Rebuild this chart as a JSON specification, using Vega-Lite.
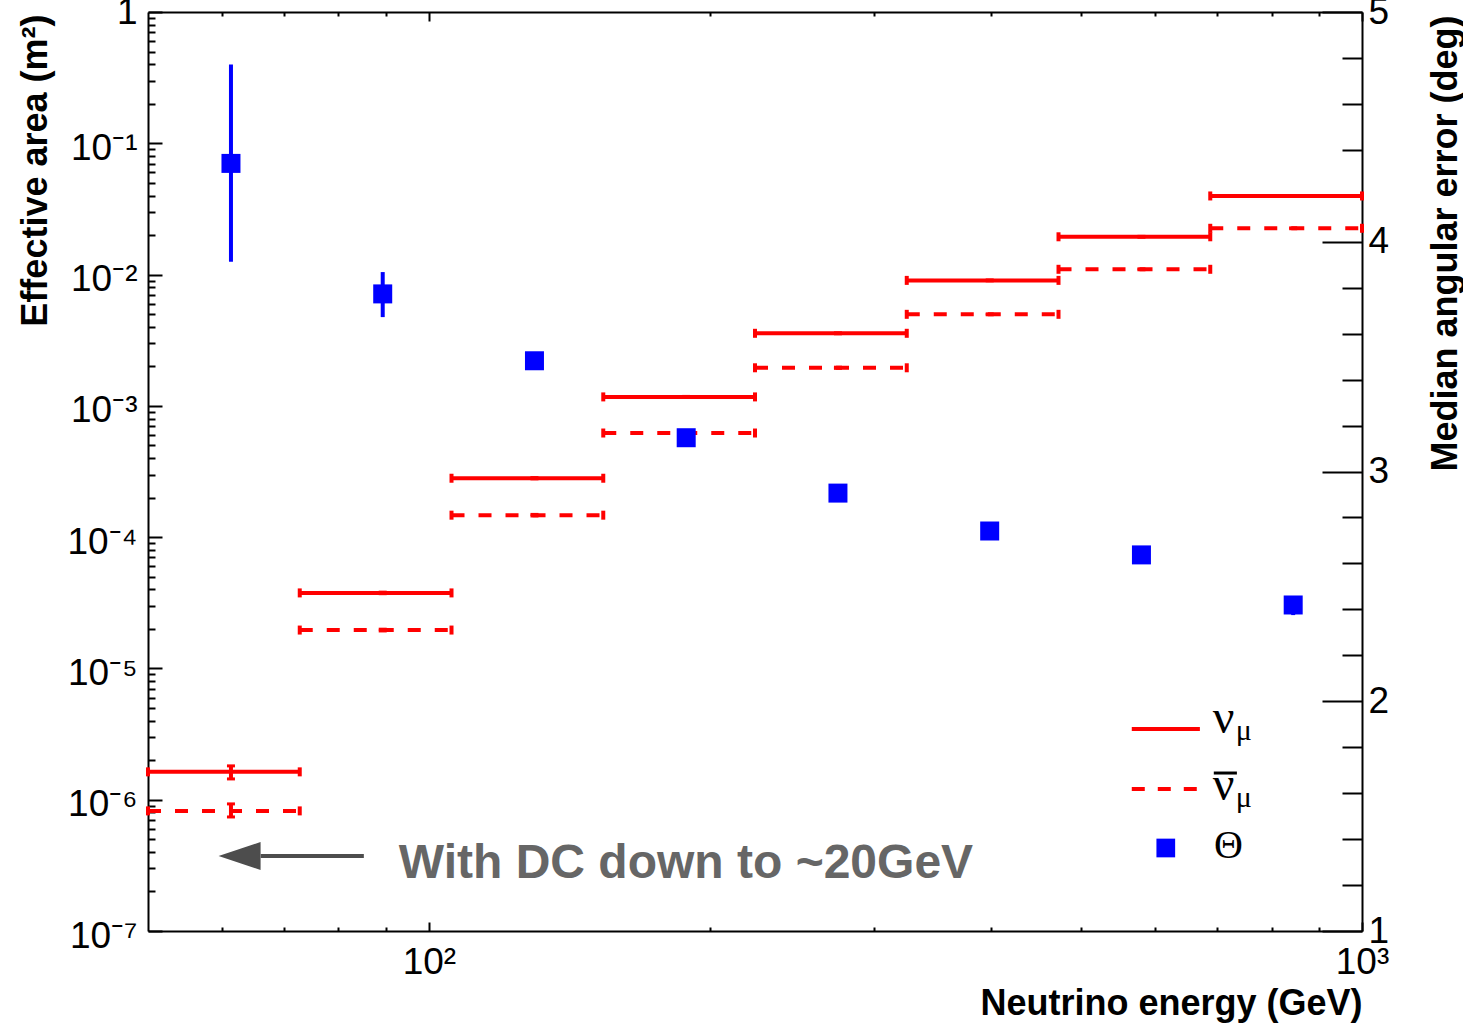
{
  "$schema": "https://vega.github.io/schema/vega-lite/v6.json",
  "width": 1214,
  "height": 919,
  "autosize": {"type": "none"},
  "padding": {"left": 148, "top": 12, "right": 101, "bottom": 92},
  "background": "white",
  "datasets": {
    "red": [
      {"series": "nu", "x0": 50, "x1": 72.71, "xc": 61.36, "y": 1.63e-6, "lo": 1.44e-6, "hi": 1.81e-6},
      {"series": "nu", "x0": 72.71, "x1": 105.74, "xc": 89.23, "y": 3.76e-5, "lo": 3.71e-5, "hi": 3.81e-5},
      {"series": "nu", "x0": 105.74, "x1": 153.77, "xc": 129.76, "y": 2.81e-4, "lo": 2.78e-4, "hi": 2.84e-4},
      {"series": "nu", "x0": 153.77, "x1": 223.61, "xc": 188.69, "y": 1.17e-3, "lo": 1.16e-3, "hi": 1.18e-3},
      {"series": "nu", "x0": 223.61, "x1": 325.18, "xc": 274.4, "y": 3.57e-3, "lo": 3.54e-3, "hi": 3.6e-3},
      {"series": "nu", "x0": 325.18, "x1": 472.88, "xc": 399.03, "y": 9.03e-3, "lo": 8.96e-3, "hi": 9.1e-3},
      {"series": "nu", "x0": 472.88, "x1": 687.67, "xc": 580.27, "y": 0.0194, "lo": 0.01925, "hi": 0.01955},
      {"series": "nu", "x0": 687.67, "x1": 1000, "xc": 843.84, "y": 0.0397, "lo": 0.0394, "hi": 0.04},
      {"series": "nubar", "x0": 50, "x1": 72.71, "xc": 61.36, "y": 8.22e-7, "lo": 7.39e-7, "hi": 9.29e-7},
      {"series": "nubar", "x0": 72.71, "x1": 105.74, "xc": 89.23, "y": 1.96e-5, "lo": 1.93e-5, "hi": 1.99e-5},
      {"series": "nubar", "x0": 105.74, "x1": 153.77, "xc": 129.76, "y": 1.47e-4, "lo": 1.45e-4, "hi": 1.49e-4},
      {"series": "nubar", "x0": 153.77, "x1": 223.61, "xc": 188.69, "y": 6.21e-4, "lo": 6.15e-4, "hi": 6.27e-4},
      {"series": "nubar", "x0": 223.61, "x1": 325.18, "xc": 274.4, "y": 1.95e-3, "lo": 1.93e-3, "hi": 1.97e-3},
      {"series": "nubar", "x0": 325.18, "x1": 472.88, "xc": 399.03, "y": 4.98e-3, "lo": 4.94e-3, "hi": 5.02e-3},
      {"series": "nubar", "x0": 472.88, "x1": 687.67, "xc": 580.27, "y": 0.01097, "lo": 0.01088, "hi": 0.01106},
      {"series": "nubar", "x0": 687.67, "x1": 1000, "xc": 843.84, "y": 0.02252, "lo": 0.02235, "hi": 0.02269}
    ],
    "theta": [
      {"xc": 61.36, "y": 4.341, "lo": 3.913, "hi": 4.772},
      {"xc": 89.23, "y": 3.773, "lo": 3.672, "hi": 3.868},
      {"xc": 129.76, "y": 3.482, "lo": 3.46, "hi": 3.5},
      {"xc": 188.69, "y": 3.147, "lo": 3.13, "hi": 3.165},
      {"xc": 274.4, "y": 2.906, "lo": 2.89, "hi": 2.92},
      {"xc": 399.03, "y": 2.741, "lo": 2.725, "hi": 2.755},
      {"xc": 580.27, "y": 2.637, "lo": 2.62, "hi": 2.655},
      {"xc": 843.84, "y": 2.419, "lo": 2.375, "hi": 2.458}
    ]
  },
  "layer": [
    {
      "data": {"name": "red"},
      "transform": [{"filter": "datum.series == 'nu'"}],
      "mark": {"type": "rule", "color": "#ff0000", "strokeWidth": 4},
      "encoding": {
        "x": {"field": "x0", "type": "quantitative", "scale": {"type": "log", "domain": [50, 1000], "nice": false},
          "axis": {
            "orient": "bottom",
            "values": [60, 70, 80, 90, 100, 200, 300, 400, 500, 600, 700, 800, 900, 1000],
            "labelExpr": "datum.value == 100 ? '10²' : (datum.value == 1000 ? '10³' : '')",
            "tickSize": {"condition": {"test": "datum.value == 100 || datum.value == 1000", "value": -9}, "value": -4},
            "labelPadding": 22,
            "labelBaseline": "top",
            "title": "Neutrino energy (GeV)",
            "titleAnchor": "end",
            "titleAlign": "right",
            "titleBaseline": "alphabetic",
            "titleX": 1214,
            "titleY": 83
          }
        },
        "x2": {"field": "x1"},
        "y": {"field": "y", "type": "quantitative", "scale": {"type": "log", "domain": [1e-7, 1], "nice": false},
          "axis": {
            "orient": "left",
            "values": [1e-7, 2e-7, 3e-7, 4e-7, 5e-7, 6e-7, 7e-7, 8e-7, 9e-7,
                       1e-6, 2e-6, 3e-6, 4e-6, 5e-6, 6e-6, 7e-6, 8e-6, 9e-6,
                       1e-5, 2e-5, 3e-5, 4e-5, 5e-5, 6e-5, 7e-5, 8e-5, 9e-5,
                       1e-4, 2e-4, 3e-4, 4e-4, 5e-4, 6e-4, 7e-4, 8e-4, 9e-4,
                       0.001, 0.002, 0.003, 0.004, 0.005, 0.006, 0.007, 0.008, 0.009,
                       0.01, 0.02, 0.03, 0.04, 0.05, 0.06, 0.07, 0.08, 0.09,
                       0.1, 0.2, 0.3, 0.4, 0.5, 0.6, 0.7, 0.8, 0.9, 1],
            "labelExpr": "abs(log(datum.value)/LN10 - round(log(datum.value)/LN10)) < 0.001 ? ['1','10⁻¹','10⁻²','10⁻³','10⁻⁴','10⁻⁵','10⁻⁶','10⁻⁷'][-round(log(datum.value)/LN10)] : ''",
            "tickSize": {"condition": {"test": "abs(log(datum.value)/LN10 - round(log(datum.value)/LN10)) < 0.001", "value": -14}, "value": -7},
            "labelOffset": {"condition": {"test": "datum.value == 1", "value": 0}, "value": 5},
            "labelPadding": 25,
            "labelAlign": "right",
            "labelBaseline": "middle",
            "title": "Effective area (m²)",
            "titleAnchor": "end",
            "titleAngle": -90,
            "titleAlign": "right",
            "titleBaseline": "alphabetic",
            "titleX": -102,
            "titleY": 2
          }
        }
      }
    },
    {
      "data": {"name": "red"},
      "transform": [{"filter": "datum.series == 'nubar'"}],
      "mark": {"type": "rule", "color": "#ff0000", "strokeWidth": 4, "strokeDash": [13, 14]},
      "encoding": {
        "x": {"field": "x0", "type": "quantitative",
          "axis": {
            "orient": "top",
            "values": [60, 70, 80, 90, 100, 200, 300, 400, 500, 600, 700, 800, 900, 1000],
            "labels": false,
            "tickSize": {"condition": {"test": "datum.value == 100 || datum.value == 1000", "value": -9}, "value": -4},
            "title": null
          }
        },
        "x2": {"field": "x1"},
        "y": {"field": "y", "type": "quantitative", "scale": {"type": "log", "domain": [1e-7, 1], "nice": false}, "axis": null}
      }
    },
    {
      "data": {"name": "red"},
      "mark": {"type": "tick", "orient": "vertical", "size": 9, "thickness": 4, "color": "#ff0000", "opacity": 1},
      "encoding": {
        "x": {"field": "x0", "type": "quantitative", "axis": null},
        "y": {"field": "y", "type": "quantitative", "scale": {"type": "log", "domain": [1e-7, 1], "nice": false}, "axis": null}
      }
    },
    {
      "data": {"name": "red"},
      "mark": {"type": "tick", "orient": "vertical", "size": 9, "thickness": 4, "color": "#ff0000", "opacity": 1},
      "encoding": {
        "x": {"field": "x1", "type": "quantitative", "axis": null},
        "y": {"field": "y", "type": "quantitative", "scale": {"type": "log", "domain": [1e-7, 1], "nice": false}, "axis": null}
      }
    },
    {
      "data": {"name": "red"},
      "mark": {"type": "rule", "color": "#ff0000", "strokeWidth": 4},
      "encoding": {
        "x": {"field": "xc", "type": "quantitative", "axis": null},
        "y": {"field": "lo", "type": "quantitative", "scale": {"type": "log", "domain": [1e-7, 1], "nice": false}, "axis": null},
        "y2": {"field": "hi"}
      }
    },
    {
      "data": {"name": "red"},
      "mark": {"type": "tick", "orient": "horizontal", "size": 8, "thickness": 3, "color": "#ff0000", "opacity": 1},
      "encoding": {
        "x": {"field": "xc", "type": "quantitative", "axis": null},
        "y": {"field": "lo", "type": "quantitative", "scale": {"type": "log", "domain": [1e-7, 1], "nice": false}, "axis": null}
      }
    },
    {
      "data": {"name": "red"},
      "mark": {"type": "tick", "orient": "horizontal", "size": 8, "thickness": 3, "color": "#ff0000", "opacity": 1},
      "encoding": {
        "x": {"field": "xc", "type": "quantitative", "axis": null},
        "y": {"field": "hi", "type": "quantitative", "scale": {"type": "log", "domain": [1e-7, 1], "nice": false}, "axis": null}
      }
    },
    {
      "data": {"values": [{}]},
      "mark": {"type": "rule", "color": "#4d4d4d", "strokeWidth": 4},
      "encoding": {
        "x": {"datum": 66.03, "type": "quantitative", "axis": null},
        "x2": {"datum": 85.17},
        "y": {"datum": 3.725e-7, "type": "quantitative", "scale": {"type": "log", "domain": [1e-7, 1], "nice": false}, "axis": null}
      }
    },
    {
      "data": {"values": [{}]},
      "mark": {"type": "point", "shape": "M-1,0L1,-0.667L1,0.667Z", "size": 1764, "filled": true, "color": "#4d4d4d", "opacity": 1, "strokeWidth": 0},
      "encoding": {
        "x": {"datum": 62.68, "type": "quantitative", "axis": null},
        "y": {"datum": 3.725e-7, "type": "quantitative", "scale": {"type": "log", "domain": [1e-7, 1], "nice": false}, "axis": null}
      }
    },
    {
      "data": {"values": [{}]},
      "mark": {"type": "text", "text": "With DC down to ~20GeV", "font": "Liberation Sans", "fontSize": 48, "fontWeight": "bold", "color": "#666666", "align": "left", "baseline": "alphabetic"},
      "encoding": {
        "x": {"datum": 92.85, "type": "quantitative", "axis": null},
        "y": {"datum": 2.534e-7, "type": "quantitative", "scale": {"type": "log", "domain": [1e-7, 1], "nice": false}, "axis": null}
      }
    },
    {
      "data": {"values": [{}]},
      "mark": {"type": "rule", "color": "#ff0000", "strokeWidth": 4},
      "encoding": {
        "x": {"datum": 566.6, "type": "quantitative", "axis": null},
        "x2": {"datum": 670.3},
        "y": {"datum": 3.457e-6, "type": "quantitative", "scale": {"type": "log", "domain": [1e-7, 1], "nice": false}, "axis": null}
      }
    },
    {
      "data": {"values": [{}]},
      "mark": {"type": "rule", "color": "#ff0000", "strokeWidth": 4, "strokeDash": [13, 13]},
      "encoding": {
        "x": {"datum": 566.6, "type": "quantitative", "axis": null},
        "x2": {"datum": 670.3},
        "y": {"datum": 1.207e-6, "type": "quantitative", "scale": {"type": "log", "domain": [1e-7, 1], "nice": false}, "axis": null}
      }
    },
    {
      "data": {"values": [{}]},
      "mark": {"type": "point", "shape": "square", "size": 350, "filled": true, "color": "#0000ff", "opacity": 1},
      "encoding": {
        "x": {"datum": 616.2, "type": "quantitative", "axis": null},
        "y": {"datum": 4.288e-7, "type": "quantitative", "scale": {"type": "log", "domain": [1e-7, 1], "nice": false}, "axis": null}
      }
    },
    {
      "data": {"values": [{}]},
      "mark": {"type": "text", "text": "ν", "font": "Liberation Serif", "fontSize": 48, "color": "black", "align": "left", "baseline": "alphabetic"},
      "encoding": {
        "x": {"datum": 692.0, "type": "quantitative", "axis": null},
        "y": {"datum": 3.223e-6, "type": "quantitative", "scale": {"type": "log", "domain": [1e-7, 1], "nice": false}, "axis": null}
      }
    },
    {
      "data": {"values": [{}]},
      "mark": {"type": "text", "text": "μ", "font": "Liberation Serif", "fontSize": 30, "color": "black", "align": "left", "baseline": "alphabetic"},
      "encoding": {
        "x": {"datum": 732.4, "type": "quantitative", "axis": null},
        "y": {"datum": 2.851e-6, "type": "quantitative", "scale": {"type": "log", "domain": [1e-7, 1], "nice": false}, "axis": null}
      }
    },
    {
      "data": {"values": [{}]},
      "mark": {"type": "text", "text": "ν", "font": "Liberation Serif", "fontSize": 48, "color": "black", "align": "left", "baseline": "alphabetic"},
      "encoding": {
        "x": {"datum": 692.0, "type": "quantitative", "axis": null},
        "y": {"datum": 9.95e-7, "type": "quantitative", "scale": {"type": "log", "domain": [1e-7, 1], "nice": false}, "axis": null}
      }
    },
    {
      "data": {"values": [{}]},
      "mark": {"type": "rule", "color": "black", "strokeWidth": 3},
      "encoding": {
        "x": {"datum": 693.7, "type": "quantitative", "axis": null},
        "x2": {"datum": 734.4},
        "y": {"datum": 1.597e-6, "type": "quantitative", "scale": {"type": "log", "domain": [1e-7, 1], "nice": false}, "axis": null}
      }
    },
    {
      "data": {"values": [{}]},
      "mark": {"type": "text", "text": "μ", "font": "Liberation Serif", "fontSize": 30, "color": "black", "align": "left", "baseline": "alphabetic"},
      "encoding": {
        "x": {"datum": 732.4, "type": "quantitative", "axis": null},
        "y": {"datum": 8.8e-7, "type": "quantitative", "scale": {"type": "log", "domain": [1e-7, 1], "nice": false}, "axis": null}
      }
    },
    {
      "data": {"values": [{}]},
      "mark": {"type": "text", "text": "Θ", "font": "Liberation Serif", "fontSize": 40, "color": "black", "align": "left", "baseline": "alphabetic"},
      "encoding": {
        "x": {"datum": 694.0, "type": "quantitative", "axis": null},
        "y": {"datum": 3.62e-7, "type": "quantitative", "scale": {"type": "log", "domain": [1e-7, 1], "nice": false}, "axis": null}
      }
    },
    {
      "data": {"name": "theta"},
      "mark": {"type": "rule", "color": "#0000ff", "strokeWidth": 4},
      "encoding": {
        "x": {"field": "xc", "type": "quantitative", "axis": null},
        "y": {"field": "lo", "type": "quantitative", "scale": {"type": "linear", "domain": [1, 5], "nice": false, "zero": false},
          "axis": {
            "orient": "right",
            "values": [1, 1.2, 1.4, 1.6, 1.8, 2, 2.2, 2.4, 2.6, 2.8, 3, 3.2, 3.4, 3.6, 3.8, 4, 4.2, 4.4, 4.6, 4.8, 5],
            "labelExpr": "abs(datum.value - round(datum.value)) < 0.001 ? format(datum.value, 'd') : ''",
            "tickSize": {"condition": {"test": "abs(datum.value - round(datum.value)) < 0.001", "value": -40}, "value": -20},
            "labelPadding": 46,
            "labelAlign": "left",
            "labelBaseline": "middle",
            "title": "Median angular error (deg)",
            "titleAnchor": "end",
            "titleAngle": -90,
            "titleAlign": "right",
            "titleBaseline": "alphabetic",
            "titleX": 94,
            "titleY": 3
          }
        },
        "y2": {"field": "hi"}
      }
    },
    {
      "data": {"name": "theta"},
      "mark": {"type": "point", "shape": "square", "size": 361, "filled": true, "color": "#0000ff", "opacity": 1},
      "encoding": {
        "x": {"field": "xc", "type": "quantitative", "axis": null},
        "y": {"field": "y", "type": "quantitative", "scale": {"type": "linear", "domain": [1, 5], "nice": false, "zero": false}, "axis": null}
      }
    }
  ],
  "resolve": {"scale": {"y": "independent"}, "axis": {"y": "independent", "x": "independent"}},
  "config": {
    "view": {"stroke": null},
    "axis": {
      "grid": false,
      "domainColor": "black",
      "domainWidth": 2,
      "tickColor": "black",
      "tickWidth": 2,
      "labelFont": "Liberation Sans",
      "labelFontSize": 37,
      "labelColor": "black",
      "labelOverlap": false,
      "labelBound": false,
      "labelFlush": false,
      "titleFont": "Liberation Sans",
      "titleFontSize": 36,
      "titleFontWeight": "bold",
      "titleColor": "black"
    }
  }
}
